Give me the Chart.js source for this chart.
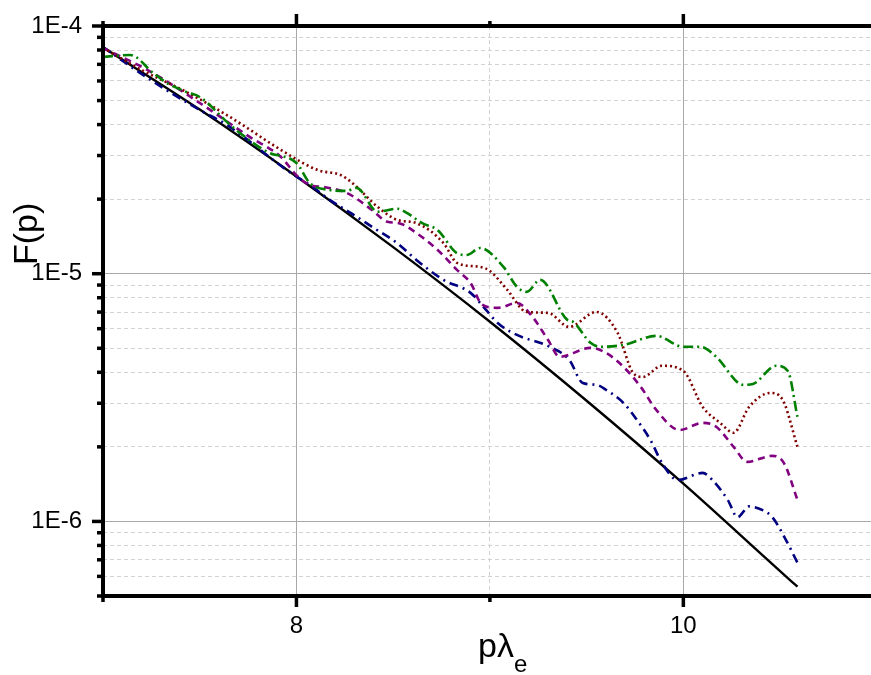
<!DOCTYPE html>
<html>
<head>
<meta charset="utf-8">
<script src="https://cdn.jsdelivr.net/npm/chart.js@4"></script>
<style>
  body { margin: 0; background: #fff; }
  canvas { display: block; }
</style>
</head>
<body>
<canvas id="chart" width="871" height="675"></canvas>
<script>
// p values and F(p), one pair of arrays per curve
const blackP = [7.0, 7.5, 8.0, 8.5, 9.0, 9.5, 10.0, 10.5, 10.59];
const blackF = [8.2e-5, 4.6e-5, 2.47e-5, 1.28e-5, 6.4e-6, 3.07e-6, 1.42e-6, 6.3e-7, 5.45e-7];

const blueP = [7.0, 7.23, 7.5, 7.64, 7.95, 8.09, 8.17, 8.28, 8.4, 8.52, 8.62, 8.76, 8.9, 8.98, 9.04, 9.14,
  9.31, 9.41, 9.48, 9.55, 9.6, 9.69, 9.76, 9.83, 9.89, 9.97, 10.1, 10.15, 10.23, 10.28, 10.34, 10.41, 10.46, 10.53, 10.59];
const blueF = [8.23e-5, 6.17e-5, 4.58e-5, 3.99e-5, 2.62e-5, 2.22e-5, 1.99e-5, 1.76e-5, 1.53e-5, 1.33e-5, 1.137e-5,
  9.44e-6, 8.37e-6, 7.14e-6, 6.33e-6, 5.66e-6, 5.07e-6, 4.49e-6, 3.62e-6, 3.56e-6, 3.4e-6, 3.01e-6, 2.57e-6,
  2.13e-6, 1.72e-6, 1.47e-6, 1.57e-6, 1.47e-6, 1.22e-6, 1.04e-6, 1.15e-6, 1.11e-6, 1.04e-6, 8.43e-7, 6.81e-7];

const purpleP = [7.0, 7.24, 7.5, 7.76, 7.92, 8.0, 8.07, 8.14, 8.26, 8.39, 8.47, 8.53, 8.62, 8.73, 8.83, 8.9, 8.96,
  9.04, 9.14, 9.22, 9.3, 9.36, 9.52, 9.6, 9.69, 9.78, 9.86, 9.98, 10.1, 10.17, 10.26, 10.33, 10.46, 10.52, 10.59];
const purpleF = [8.15e-5, 6.58e-5, 4.89e-5, 3.56e-5, 2.96e-5, 2.5e-5, 2.28e-5, 2.24e-5, 2.12e-5, 1.81e-5, 1.62e-5,
  1.6e-5, 1.46e-5, 1.247e-5, 1.036e-5, 9.18e-6, 7.5e-6, 7.28e-6, 7.62e-6, 6.7e-6, 5.41e-6, 4.62e-6, 5.02e-6,
  4.79e-6, 4.21e-6, 3.49e-6, 2.82e-6, 2.34e-6, 2.5e-6, 2.41e-6, 2.0e-6, 1.74e-6, 1.84e-6, 1.72e-6, 1.22e-6];

const redP = [7.0, 7.21, 7.43, 7.64, 7.98, 8.11, 8.23, 8.29, 8.42, 8.52, 8.62, 8.76, 8.83, 8.95, 9.0, 9.09, 9.19,
  9.3, 9.41, 9.55, 9.66, 9.74, 9.79, 9.89, 10.0, 10.1, 10.19, 10.26, 10.34, 10.45, 10.51, 10.59];
const redF = [8.15e-5, 6.58e-5, 5.42e-5, 4.37e-5, 2.96e-5, 2.62e-5, 2.5e-5, 2.32e-5, 1.86e-5, 1.65e-5, 1.6e-5,
  1.33e-5, 1.106e-5, 1.065e-5, 1.026e-5, 8.6e-6, 7.01e-6, 6.95e-6, 6.1e-6, 7.01e-6, 5.77e-6, 3.98e-6, 3.83e-6,
  4.25e-6, 4.05e-6, 2.9e-6, 2.5e-6, 2.28e-6, 2.9e-6, 3.3e-6, 3.13e-6, 2.0e-6];

const greenP = [7.0, 7.14, 7.26, 7.33, 7.43, 7.5, 7.67, 7.85, 8.0, 8.07, 8.17, 8.26, 8.31, 8.42, 8.52, 8.57, 8.65,
  8.73, 8.83, 8.88, 8.95, 9.07, 9.14, 9.19, 9.26, 9.4, 9.43, 9.52, 9.57, 9.69, 9.86, 10.0, 10.09, 10.17, 10.31,
  10.36, 10.48, 10.54, 10.59];
const greenF = [7.5e-5, 7.64e-5, 6.46e-5, 5.89e-5, 5.42e-5, 5.17e-5, 3.91e-5, 3.1e-5, 2.8e-5, 2.32e-5, 2.18e-5,
  2.16e-5, 2.22e-5, 1.78e-5, 1.83e-5, 1.76e-5, 1.6e-5, 1.5e-5, 1.21e-5, 1.19e-5, 1.27e-5, 1.065e-5, 8.85e-6,
  8.45e-6, 9.44e-6, 6.51e-6, 6.39e-6, 5.26e-6, 5.07e-6, 5.16e-6, 5.61e-6, 5.07e-6, 5.07e-6, 4.62e-6, 3.56e-6,
  3.59e-6, 4.25e-6, 4.05e-6, 2.64e-6];

// axis ticks
const xTicks = [7, 8, 9, 10];
const xLabelled = [8, 10];
const yTicks = [5e-7, 6e-7, 7e-7, 8e-7, 9e-7, 1e-6, 2e-6, 3e-6, 4e-6, 5e-6, 6e-6, 7e-6, 8e-6, 9e-6,
  1e-5, 2e-5, 3e-5, 4e-5, 5e-5, 6e-5, 7e-5, 8e-5, 9e-5, 1e-4];

const FONT = 'Arial, "Liberation Sans", sans-serif';

function isDecade(v) {
  const l = Math.log10(v);
  return Math.abs(l - Math.round(l)) < 1e-6;
}
function pts(px, fy) {
  return px.map((x, i) => ({ x: x, y: fy[i] }));
}

// thick frame + tick marks, titles
const framePlugin = {
  id: 'frame',
  afterDraw(chart) {
    const c = chart.ctx;
    const a = chart.chartArea;
    const xs = chart.scales.x, ys = chart.scales.y;
    c.save();
    c.strokeStyle = '#000';
    c.lineCap = 'butt';

    c.lineWidth = 3.5;
    xs.ticks.forEach(t => {
      const x = xs.getPixelForValue(t.value);
      const major = xLabelled.includes(t.value);
      c.beginPath();
      c.moveTo(x, a.bottom);
      c.lineTo(x, a.bottom + (major ? 11 : 6));
      c.moveTo(x, a.top);
      c.lineTo(x, a.top - (major ? 12 : 5));
      c.stroke();
    });
    ys.ticks.forEach(t => {
      const y = ys.getPixelForValue(t.value);
      c.beginPath();
      c.moveTo(a.left, y);
      c.lineTo(a.left - (isDecade(t.value) ? 11 : 6), y);
      c.stroke();
    });

    c.lineWidth = 4;
    c.beginPath();
    c.moveTo(a.left, a.top - 2);
    c.lineTo(a.left, a.bottom + 2);
    c.moveTo(a.left - 2, a.bottom);
    c.lineTo(a.right, a.bottom);
    c.moveTo(a.left - 2, a.top);
    c.lineTo(a.right, a.top);
    c.stroke();

    // axis titles
    c.fillStyle = '#000';
    c.textBaseline = 'alphabetic';
    c.textAlign = 'left';
    c.font = '34px ' + FONT;
    const x0 = 478, base = 657;
    c.fillText('p\u03bb', x0, base);
    const w = c.measureText('p\u03bb').width;
    c.font = '24px ' + FONT;
    c.fillText('e', x0 + w, base + 15);

    c.translate(37, 265);
    c.rotate(-Math.PI / 2);
    c.font = '34px ' + FONT;
    c.fillText('F(p)', 0, 0);
    c.restore();
  }
};

const ctx = document.getElementById('chart').getContext('2d');
new Chart(ctx, {
  type: 'line',
  data: {
    datasets: [
      { data: pts(greenP, greenF), borderColor: '#008000', borderWidth: 2.6, borderDash: [10, 4, 2, 4] },
      { data: pts(redP, redF), borderColor: '#800000', borderWidth: 2.6, borderDash: [2, 3] },
      { data: pts(purpleP, purpleF), borderColor: '#800080', borderWidth: 2.6, borderDash: [7, 5] },
      { data: pts(blueP, blueF), borderColor: '#000080', borderWidth: 2.6, borderDash: [9, 5, 2, 5] },
      { data: pts(blackP, blackF), borderColor: '#000000', borderWidth: 2.4 }
    ]
  },
  options: {
    responsive: false,
    animation: false,
    layout: { padding: { left: 0, right: 0, top: 26, bottom: 0 } },
    elements: {
      point: { radius: 0 },
      line: { cubicInterpolationMode: 'monotone', fill: false }
    },
    plugins: { legend: { display: false }, tooltip: { enabled: false } },
    scales: {
      x: {
        type: 'linear',
        min: 7,
        max: 10.97,
        afterBuildTicks: s => { s.ticks = xTicks.map(v => ({ value: v })); },
        afterFit: s => { s.height = 79; s.paddingLeft = 0; s.paddingRight = 0; },
        border: { display: false, dash: c => (c.tick && c.tick.value === 9) ? [4, 3] : [] },
        grid: {
          drawTicks: false,
          lineWidth: 1,
          color: c => {
            const v = c.tick ? c.tick.value : 0;
            if (v === 7) return 'rgba(0,0,0,0)';
            return xLabelled.includes(v) ? '#a8a8a8' : '#d2d2d2';
          }
        },
        ticks: {
          autoSkip: false,
          maxRotation: 0,
          padding: 16,
          color: '#000',
          font: { size: 24, family: FONT },
          callback: v => xLabelled.includes(v) ? String(v) : ''
        }
      },
      y: {
        type: 'logarithmic',
        min: 5e-7,
        max: 1e-4,
        afterBuildTicks: s => { s.ticks = yTicks.map(v => ({ value: v })); },
        afterFit: s => { s.width = 103; s.paddingTop = 0; s.paddingBottom = 0; },
        border: { display: false, dash: c => (c.tick && !isDecade(c.tick.value)) ? [4, 3] : [] },
        grid: {
          drawTicks: false,
          lineWidth: 1,
          color: c => (c.tick && isDecade(c.tick.value)) ? '#a8a8a8' : '#d2d2d2'
        },
        ticks: {
          autoSkip: false,
          padding: 21,
          color: '#000',
          font: { size: 24, family: FONT },
          callback: v => isDecade(v) ? '1E' + Math.round(Math.log10(v)) : ''
        }
      }
    }
  },
  plugins: [framePlugin]
});
</script>
</body>
</html>
